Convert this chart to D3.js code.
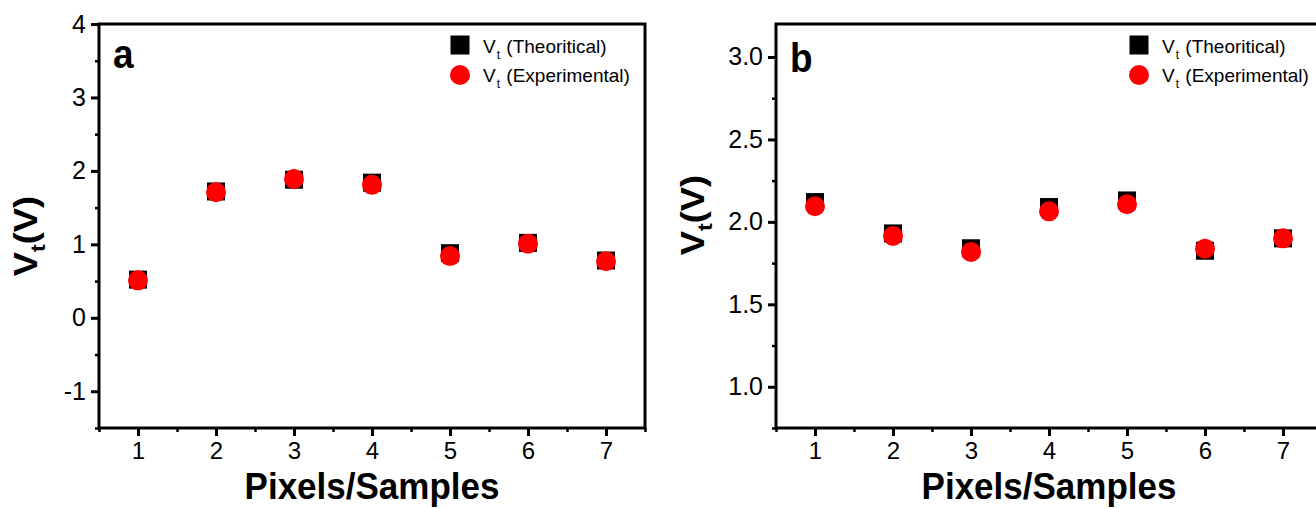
<!DOCTYPE html>
<html>
<head>
<meta charset="utf-8">
<script src="https://cdn.jsdelivr.net/npm/d3@7"></script>
<style>
  body { margin: 0; background: #fff; }
  svg { display: block; font-family: "Liberation Sans", Arial, sans-serif; }
</style>
</head>
<body>
<script>
// pixel / sample index
const samples = [1, 2, 3, 4, 5, 6, 7];

// panel a
const theoA = [0.52, 1.72, 1.88, 1.84, 0.88, 1.02, 0.78];
const expA = [0.51, 1.71, 1.89, 1.81, 0.84, 1.01, 0.77];
const yTicksA = [-1, 0, 1, 2, 3, 4];

// panel b
const theoB = [2.12, 1.93, 1.84, 2.09, 2.13, 1.825, 1.90];
const expB = [2.095, 1.915, 1.818, 2.064, 2.107, 1.837, 1.90];
const yTicksB = [1.0, 1.5, 2.0, 2.5, 3.0];

const legendNames = ["(Theoritical)", "(Experimental)"];
const xLabel = "Pixels/Samples";

const svg = d3.select("body")
  .append("svg")
  .attr("width", 1316)
  .attr("height", 508);

// plain hyphen for negatives, like the original
const hyphen = (fmt) => (d) => fmt(d).replace("\u2212", "-");

const drawPanel = (cfg) => {
  const g = svg.append("g");

  const xScale = d3.scaleLinear()
    .domain([0.5, 7.5])
    .range([cfg.left, cfg.right]);

  const yScale = d3.scaleLinear()
    .domain(cfg.yDomain)
    .range([cfg.bottom, cfg.top]);

  // minor ticks
  g.append("g")
    .attr("transform", `translate(${cfg.left},0)`)
    .call(d3.axisLeft(yScale).tickValues(cfg.yMinor).tickSize(4).tickFormat(""))
    .call(a => a.select(".domain").remove())
    .call(a => a.selectAll("line").attr("stroke-width", 2.5));

  g.append("g")
    .attr("transform", `translate(0,${cfg.bottom})`)
    .call(d3.axisBottom(xScale).tickValues(d3.range(0.5, 8, 1)).tickSize(4).tickFormat(""))
    .call(a => a.select(".domain").remove())
    .call(a => a.selectAll("line").attr("stroke-width", 2.5));

  // major ticks
  g.append("g")
    .attr("transform", `translate(${cfg.left},0)`)
    .call(d3.axisLeft(yScale).tickValues(cfg.yTicks).tickSize(8).tickPadding(5).tickFormat(hyphen(cfg.yFormat)))
    .call(a => a.select(".domain").remove())
    .call(a => a.selectAll("line").attr("stroke-width", 3))
    .call(a => a.selectAll("text").attr("font-size", 25).attr("font-family", null).attr("fill", "#000"));

  g.append("g")
    .attr("transform", `translate(0,${cfg.bottom})`)
    .call(d3.axisBottom(xScale).tickValues(samples).tickSize(8).tickPadding(6).tickFormat(d3.format("d")))
    .call(a => a.select(".domain").remove())
    .call(a => a.selectAll("line").attr("stroke-width", 3))
    .call(a => a.selectAll("text").attr("font-size", 24).attr("font-family", null).attr("fill", "#000"));

  // frame
  g.append("rect")
    .attr("x", cfg.left)
    .attr("y", cfg.top)
    .attr("width", cfg.right - cfg.left)
    .attr("height", cfg.bottom - cfg.top)
    .attr("fill", "none")
    .attr("stroke", "#000")
    .attr("stroke-width", 3);

  // theoretical squares
  g.append("g")
    .selectAll("rect")
    .data(samples.map((s, i) => [s, cfg.theo[i]]))
    .enter()
    .append("rect")
    .attr("x", d => xScale(d[0]) - 9)
    .attr("y", d => yScale(d[1]) - 9)
    .attr("width", 18)
    .attr("height", 18)
    .attr("fill", "#000");

  // experimental circles
  g.append("g")
    .selectAll("circle")
    .data(samples.map((s, i) => [s, cfg.exp[i]]))
    .enter()
    .append("circle")
    .attr("cx", d => xScale(d[0]))
    .attr("cy", d => yScale(d[1]))
    .attr("r", 10)
    .attr("fill", "#ff0000");

  // panel letter
  g.append("text")
    .text(cfg.letter)
    .attr("transform", `translate(${cfg.letterPos[0]},${cfg.letterPos[1]}) scale(1,1.1)`)
    .attr("font-size", 37)
    .attr("font-weight", 700);

  // legend
  const legend = g.append("g")
    .attr("transform", `translate(${cfg.legendPos[0]},${cfg.legendPos[1]})`);

  legend.append("rect")
    .attr("x", -9.5).attr("y", -9.5)
    .attr("width", 19).attr("height", 19)
    .attr("fill", "#000");

  legend.append("circle")
    .attr("cx", 0).attr("cy", 30)
    .attr("r", 10)
    .attr("fill", "#ff0000");

  legendNames.forEach((name, i) => {
    const t = legend.append("text")
      .attr("x", 23)
      .attr("y", 8 + i * 29)
      .attr("font-size", 19);
    t.append("tspan").text("V");
    t.append("tspan").text("t").attr("font-size", 12).attr("dy", 6).attr("dx", 1);
    t.append("tspan").text(" " + name).attr("dy", -6).attr("dx", 1);
  });

  // y label
  const yl = g.append("text")
    .attr("transform", `translate(${cfg.yLabelPos[0]},${cfg.yLabelPos[1]}) rotate(-90) scale(1.1,1)`)
    .attr("text-anchor", "middle")
    .attr("font-size", 33)
    .attr("font-weight", 700);
  yl.append("tspan").text("V");
  yl.append("tspan").text("t").attr("font-size", 21).attr("dy", 8);
  yl.append("tspan").text("(V)").attr("dy", -8);

  // x label
  g.append("text")
    .text(xLabel)
    .attr("transform", `translate(${cfg.xLabelPos[0]},${cfg.xLabelPos[1]}) scale(1,1.07)`)
    .attr("text-anchor", "middle")
    .attr("font-size", 35)
    .attr("font-weight", 700);
};

drawPanel({
  left: 99, right: 645, top: 24, bottom: 428,
  yDomain: [-1.5, 4],
  yTicks: yTicksA,
  yMinor: d3.range(-1.5, 4, 1),
  yFormat: d3.format("d"),
  theo: theoA,
  exp: expA,
  letter: "a",
  letterPos: [113, 68],
  legendPos: [460, 45],
  yLabelPos: [37, 236],
  xLabelPos: [372, 499]
});

drawPanel({
  left: 776, right: 1322, top: 24, bottom: 428,
  yDomain: [0.75, 3.2],
  yTicks: yTicksB,
  yMinor: d3.range(0.75, 3.2, 0.5),
  yFormat: d3.format(".1f"),
  theo: theoB,
  exp: expB,
  letter: "b",
  letterPos: [790, 72],
  legendPos: [1139, 45],
  yLabelPos: [704, 215],
  xLabelPos: [1049, 499]
});
</script>
</body>
</html>
